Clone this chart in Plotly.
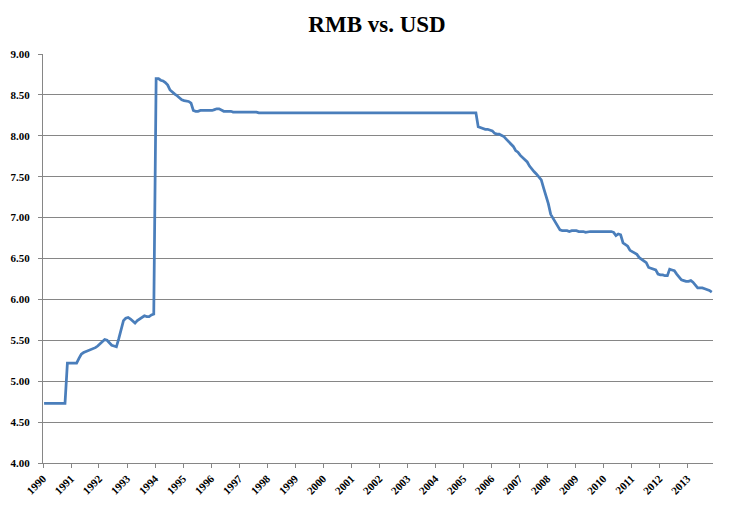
import pandas as pd
import plotly.graph_objects as go

# Tick labels (one per year, placed at January)
years = [str(y) for y in range(1990, 2014)]

# Monthly RMB per USD, Jan 1990 .. Nov 2013
rates = [
    4.73, 4.73, 4.73, 4.73, 4.73, 4.73, 4.73, 4.73, 4.73, 4.73, 5.22, 5.22,  # 1990
    5.22, 5.22, 5.22, 5.28, 5.33, 5.35, 5.36, 5.37, 5.38, 5.39, 5.41, 5.43,  # 1991
    5.46, 5.48, 5.51, 5.50, 5.47, 5.44, 5.43, 5.42, 5.52, 5.63, 5.74, 5.77,  # 1992
    5.78, 5.76, 5.74, 5.71, 5.74, 5.76, 5.77, 5.80, 5.79, 5.79, 5.81, 5.82,  # 1993
    8.70, 8.70, 8.68, 8.67, 8.65, 8.62, 8.56, 8.53, 8.51, 8.49, 8.46, 8.44,  # 1994
    8.43, 8.42, 8.42, 8.40, 8.31, 8.30, 8.30, 8.31, 8.31, 8.31, 8.31, 8.31,  # 1995
    8.31, 8.32, 8.33, 8.33, 8.31, 8.30, 8.30, 8.30, 8.30, 8.29, 8.29, 8.29,  # 1996
    8.29, 8.29, 8.29, 8.29, 8.29, 8.29, 8.29, 8.29, 8.28, 8.28, 8.28, 8.28,  # 1997
    8.28, 8.28, 8.28, 8.28, 8.28, 8.28, 8.28, 8.28, 8.28, 8.28, 8.28, 8.28,  # 1998
    8.28, 8.28, 8.28, 8.28, 8.28, 8.28, 8.28, 8.28, 8.28, 8.28, 8.28, 8.28,  # 1999
    8.28, 8.28, 8.28, 8.28, 8.28, 8.28, 8.28, 8.28, 8.28, 8.28, 8.28, 8.28,  # 2000
    8.28, 8.28, 8.28, 8.28, 8.28, 8.28, 8.28, 8.28, 8.28, 8.28, 8.28, 8.28,  # 2001
    8.28, 8.28, 8.28, 8.28, 8.28, 8.28, 8.28, 8.28, 8.28, 8.28, 8.28, 8.28,  # 2002
    8.28, 8.28, 8.28, 8.28, 8.28, 8.28, 8.28, 8.28, 8.28, 8.28, 8.28, 8.28,  # 2003
    8.28, 8.28, 8.28, 8.28, 8.28, 8.28, 8.28, 8.28, 8.28, 8.28, 8.28, 8.28,  # 2004
    8.28, 8.28, 8.28, 8.28, 8.28, 8.28, 8.11, 8.10, 8.09, 8.08, 8.08, 8.07,  # 2005
    8.06, 8.03, 8.02, 8.02, 8.01, 7.99, 7.96, 7.93, 7.89, 7.87, 7.82, 7.80,  # 2006
    7.76, 7.73, 7.71, 7.68, 7.63, 7.59, 7.56, 7.53, 7.50, 7.46, 7.36, 7.28,  # 2007
    7.17, 7.04, 6.99, 6.95, 6.89, 6.85, 6.84, 6.84, 6.84, 6.83, 6.84, 6.84,  # 2008
    6.84, 6.83, 6.83, 6.83, 6.82, 6.83, 6.83, 6.83, 6.83, 6.83, 6.83, 6.83,  # 2009
    6.83, 6.83, 6.83, 6.83, 6.82, 6.78, 6.80, 6.79, 6.69, 6.67, 6.65, 6.60,  # 2010
    6.58, 6.56, 6.55, 6.51, 6.49, 6.47, 6.45, 6.39, 6.38, 6.37, 6.36, 6.31,  # 2011
    6.30, 6.30, 6.29, 6.29, 6.37, 6.36, 6.35, 6.31, 6.28, 6.24, 6.23, 6.22,  # 2012
    6.22, 6.23, 6.21, 6.17, 6.14, 6.14, 6.14, 6.13, 6.12, 6.11, 6.09,        # 2013
]

# Category positions: mid-month dates
months = pd.date_range("1990-01-01", periods=len(rates), freq="MS") + pd.Timedelta(days=14)
tick_dates = [f"{y}-01-01" for y in years]

fig = go.Figure()
fig.add_trace(go.Scatter(
    x=months, y=rates, mode="lines",
    line=dict(color="#4A7EBB", width=2.75),
    hoverinfo="x+y", showlegend=False,
))

font_family = "Liberation Serif, Times New Roman, serif"
fig.update_layout(
    width=738, height=509,
    margin=dict(l=35, r=33, t=46, b=54),
    paper_bgcolor="white", plot_bgcolor="white",
    title=dict(text="<b>RMB vs. USD</b>", x=0.5, xanchor="center", yref="paper",
               y=1.0, yanchor="middle", pad=dict(b=0),
               font=dict(family=font_family, size=23, color="black")),
    font=dict(family=font_family, color="black"),
)
# place title centre about 16px from figure top (page has 8px body margin)
fig.update_layout(title=dict(yref="container", y=1 - 16 / 509))
fig.update_xaxes(
    type="date",
    range=["1990-01-01", "2013-12-01"],
    tickmode="array", tickvals=tick_dates, ticktext=years,
    tickangle=-45, automargin=False,
    tickfont=dict(family=font_family, size=11, color="black", weight="bold"),
    ticks="outside", ticklen=4, tickcolor="#868686", tickwidth=1,
    showline=True, linecolor="#868686", linewidth=1,
    showgrid=False, zeroline=False,
)
fig.update_yaxes(
    range=[4.0, 9.0], automargin=False,
    tickmode="linear", tick0=4.0, dtick=0.5, tickformat=".2f",
    tickfont=dict(family=font_family, size=11, color="black", weight="bold"),
    ticks="outside", ticklen=4, tickcolor="#868686", tickwidth=1,
    ticklabelstandoff=6,
    showline=True, linecolor="#868686", linewidth=1,
    showgrid=True, gridcolor="#868686", gridwidth=1,
    zeroline=False,
)

fig.write_html("out.html")
